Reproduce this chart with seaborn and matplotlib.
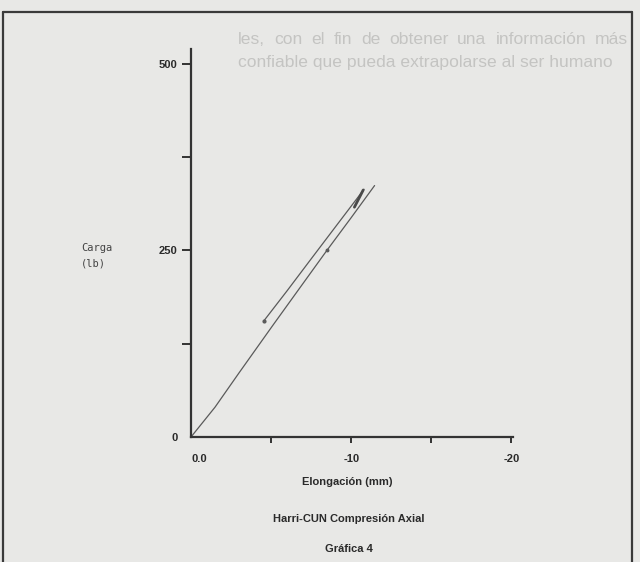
import matplotlib
matplotlib.use("Agg")
import matplotlib.pyplot as plt
import seaborn as sns
import pandas as pd
from matplotlib.lines import Line2D

# ---- data ----
load_x = [0.0, -1.5, -3.0, -5.12, -7.0, -8.48, -10.0, -11.46]
load_y = [0, 40, 86, 150, 206, 250, 294, 337]
unload_x = [-10.8, -9.1, -7.44, -6.0, -4.56]
unload_y = [332, 284, 237, 196, 156]
peak_x = [-10.2, -10.75]
peak_y = [308, 331]

x_ticks = [0, -5, -10, -15, -20]
x_ticklabels = ["0.0", "", "-10", "", "-20"]
y_ticks = [0, 125, 250, 375, 500]
y_ticklabels = ["0", "", "250", "", "500"]

bg_line1 = "les, con el fin de obtener una información más"
bg_line2 = "confiable que pueda extrapolarse al ser humano"

bg = "#e8e8e6"
sns.set_theme(style="white")
plt.rcParams["font.family"] = ["Liberation Sans", "DejaVu Sans"]

W, H = 640, 562
fig = plt.figure(figsize=(6.4, 5.62), dpi=100, facecolor=bg)
renderer = fig.canvas.get_renderer()

# faint bleed-through text of the scanned page (justified first line)
txt_kw = dict(fontsize=12.6, color="#c4c4c2", va="center", ha="left")
words = bg_line1.split(" ")
widths = []
for w in words:
    t = fig.text(0, 0, w, **txt_kw)
    widths.append(t.get_window_extent(renderer).width)
    t.remove()
x0, x1 = 238, 628
gap = (x1 - x0 - sum(widths)) / (len(words) - 1)
xp = x0
for w, wd in zip(words, widths):
    fig.text(xp / W, 1 - 40 / H, w, **txt_kw)
    xp += wd + gap
fig.text(238 / W, 1 - 63 / H, bg_line2, **txt_kw)

# frame of the scanned figure
for xs, ys in [([3, 3], [562, 12]), ([3, 632], [12, 12]), ([632, 632], [12, 562])]:
    fig.add_artist(Line2D([x / W for x in xs], [1 - y / H for y in ys],
                          color="#3a3a3a", lw=1.6))

ax = fig.add_axes([191 / W, 1 - 437 / H, (513 - 191) / W, (437 - 49) / H])
ax.set_facecolor("none")

df_load = pd.DataFrame({"x": load_x, "y": load_y})
df_unload = pd.DataFrame({"x": unload_x, "y": unload_y})
df_peak = pd.DataFrame({"x": peak_x, "y": peak_y})
sns.lineplot(data=df_load, x="x", y="y", sort=False, color="#5a5a5a", lw=0.9, ax=ax)
sns.lineplot(data=df_unload, x="x", y="y", sort=False, color="#5a5a5a", lw=0.9, ax=ax)
sns.lineplot(data=df_peak, x="x", y="y", sort=False, color="#4a4a4a", lw=2.0, ax=ax)
ax.plot([unload_x[-1]], [unload_y[-1]], "o", ms=2, color="#5a5a5a")
ax.plot([load_x[5]], [load_y[5]], "o", ms=1.8, color="#5a5a5a")

ax.set_xlim(0, -20.1)
ax.set_ylim(0, 520)
sns.despine(ax=ax)
for s in ["left", "bottom"]:
    ax.spines[s].set_color("#333333")
    ax.spines[s].set_linewidth(1.6)

ax.set_xticks(x_ticks)
ax.set_xticklabels(x_ticklabels, fontsize=8, fontweight="bold", color="#2a2a2a")
ax.set_yticks(y_ticks)
ax.set_yticklabels(y_ticklabels, fontsize=8, fontweight="bold", color="#2a2a2a")
ax.tick_params(axis="y", direction="out", length=6.5, width=1.4, color="#333333", pad=3, left=True)
ax.tick_params(axis="x", direction="out", length=4.5, width=1.4, color="#333333", pad=8, bottom=True)
ax.xaxis.get_major_ticks()[0].tick1line.set_visible(False)
ax.yaxis.get_major_ticks()[0].tick1line.set_visible(False)
ax.get_xticklabels()[0].set_horizontalalignment("left")
ax.set_xlabel("")
ax.set_ylabel("")

fig.text(81 / W, 1 - 248 / H, "Carga", family="DejaVu Sans Mono", fontsize=7.5,
         color="#444444", va="center", ha="left")
fig.text(81 / W, 1 - 263 / H, "(lb)", family="DejaVu Sans Mono", fontsize=7.5,
         color="#444444", va="center", ha="left")

fig.text(347 / W, 1 - 482 / H, "Elongación (mm)", fontsize=8, fontweight="bold",
         color="#2a2a2a", ha="center", va="center")
fig.text(349 / W, 1 - 519 / H, "Harri-CUN Compresión Axial", fontsize=8, fontweight="bold",
         color="#2a2a2a", ha="center", va="center")
fig.text(349 / W, 1 - 549 / H, "Gráfica 4", fontsize=8, fontweight="bold",
         color="#2a2a2a", ha="center", va="center")

fig.savefig("out.png", dpi=100, facecolor=bg)
